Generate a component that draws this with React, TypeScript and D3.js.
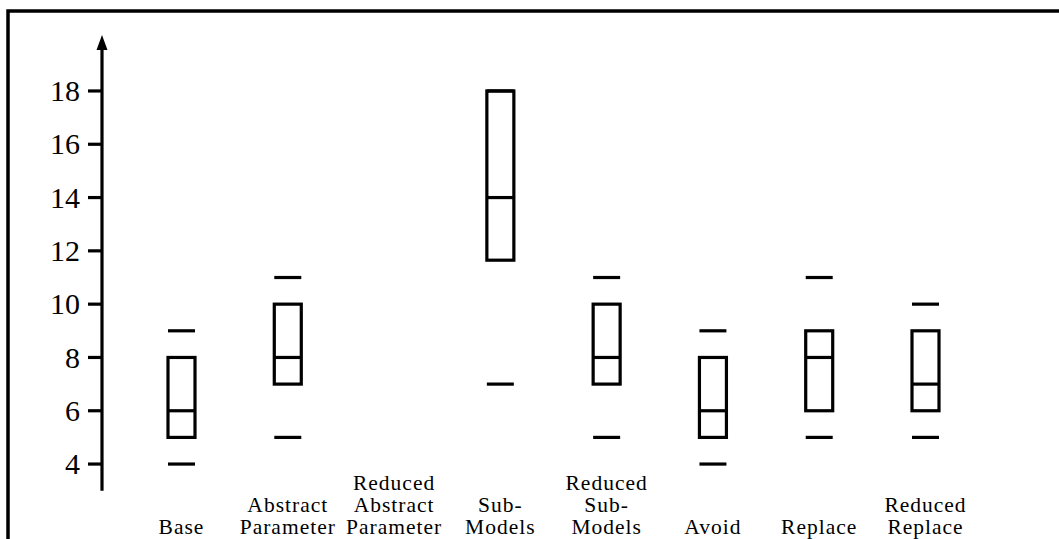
import React from "react";
import * as d3 from "d3";

const categories: string[][] = [
  ["Base"],
  ["Abstract", "Parameter"],
  ["Reduced", "Abstract", "Parameter"],
  ["Sub-", "Models"],
  ["Reduced", "Sub-", "Models"],
  ["Avoid"],
  ["Replace"],
  ["Reduced", "Replace"],
];
const minVals: (number | null)[] = [4, 5, null, 7, 5, 4, 5, 5];
const q1Vals: (number | null)[] = [5, 7, null, 11.65, 7, 5, 6, 6];
const medianVals: (number | null)[] = [6, 8, null, 14, 8, 6, 8, 7];
const q3Vals: (number | null)[] = [8, 10, null, 18, 10, 8, 9, 9];
const maxVals: (number | null)[] = [9, 11, null, 18, 11, 9, 11, 10];
const yTicks: number[] = [4, 6, 8, 10, 12, 14, 16, 18];

const W = 1059;
const H = 539;

export default function App() {
  const y = d3.scaleLinear().domain([3, 20.1]).range([490.7, 35]);
  const x = d3
    .scalePoint<number>()
    .domain(categories.map((_, i) => i))
    .range([181.5, 925.5]);
  const boxW = 27;
  const dashW = 27;
  const sw = 3.2;
  const axisX = 102;
  const font = "'Liberation Serif', 'Times New Roman', serif";

  return (
    <svg
      width={W}
      height={H}
      style={{ position: "absolute", left: 0, top: 0, display: "block" }}
    >
      <rect x={0} y={0} width={W} height={H} fill="#fff" />
      <rect
        x={8}
        y={11}
        width={W + 50}
        height={H + 50}
        fill="none"
        stroke="#000"
        strokeWidth={3.5}
      />
      {/* y axis */}
      <line
        x1={axisX}
        x2={axisX}
        y1={y(3)}
        y2={y(19.6)}
        stroke="#000"
        strokeWidth={sw}
      />
      <path
        d={`M${axisX},${y(20.1)} L${axisX - 5.5},${y(20.1) + 15} L${axisX + 5.5},${y(20.1) + 15} Z`}
        fill="#000"
      />
      {yTicks.map((t) => (
        <g key={t}>
          <line
            x1={axisX - 14}
            x2={axisX}
            y1={y(t)}
            y2={y(t)}
            stroke="#000"
            strokeWidth={sw}
          />
          <text
            x={axisX - 22}
            y={y(t)}
            dy="0.34em"
            textAnchor="end"
            fontFamily={font}
            fontSize={30}
            fill="#000"
          >
            {t}
          </text>
        </g>
      ))}
      {/* boxes */}
      {categories.map((_, i) => {
        const cx = x(i) as number;
        const mn = minVals[i];
        const q1 = q1Vals[i];
        const md = medianVals[i];
        const q3 = q3Vals[i];
        const mx = maxVals[i];
        if (q1 === null || q3 === null || md === null) return null;
        return (
          <g key={i}>
            {mn !== null && (
              <line
                x1={cx - dashW / 2}
                x2={cx + dashW / 2}
                y1={y(mn)}
                y2={y(mn)}
                stroke="#000"
                strokeWidth={sw}
              />
            )}
            {mx !== null && (
              <line
                x1={cx - dashW / 2}
                x2={cx + dashW / 2}
                y1={y(mx)}
                y2={y(mx)}
                stroke="#000"
                strokeWidth={sw}
              />
            )}
            <rect
              x={cx - boxW / 2}
              y={y(q3)}
              width={boxW}
              height={y(q1) - y(q3)}
              fill="none"
              stroke="#000"
              strokeWidth={sw}
            />
            <line
              x1={cx - boxW / 2}
              x2={cx + boxW / 2}
              y1={y(md)}
              y2={y(md)}
              stroke="#000"
              strokeWidth={sw}
            />
          </g>
        );
      })}
      {/* category labels */}
      {categories.map((lines, i) => {
        const cx = x(i) as number;
        const n = lines.length;
        return (
          <text
            key={i}
            textAnchor="middle"
            fontFamily={font}
            fontSize={21.5}
            letterSpacing={1}
            fill="#000"
          >
            {lines.map((l, j) => (
              <tspan key={j} x={cx} y={534 - (n - 1 - j) * 22}>
                {l}
              </tspan>
            ))}
          </text>
        );
      })}
    </svg>
  );
}
